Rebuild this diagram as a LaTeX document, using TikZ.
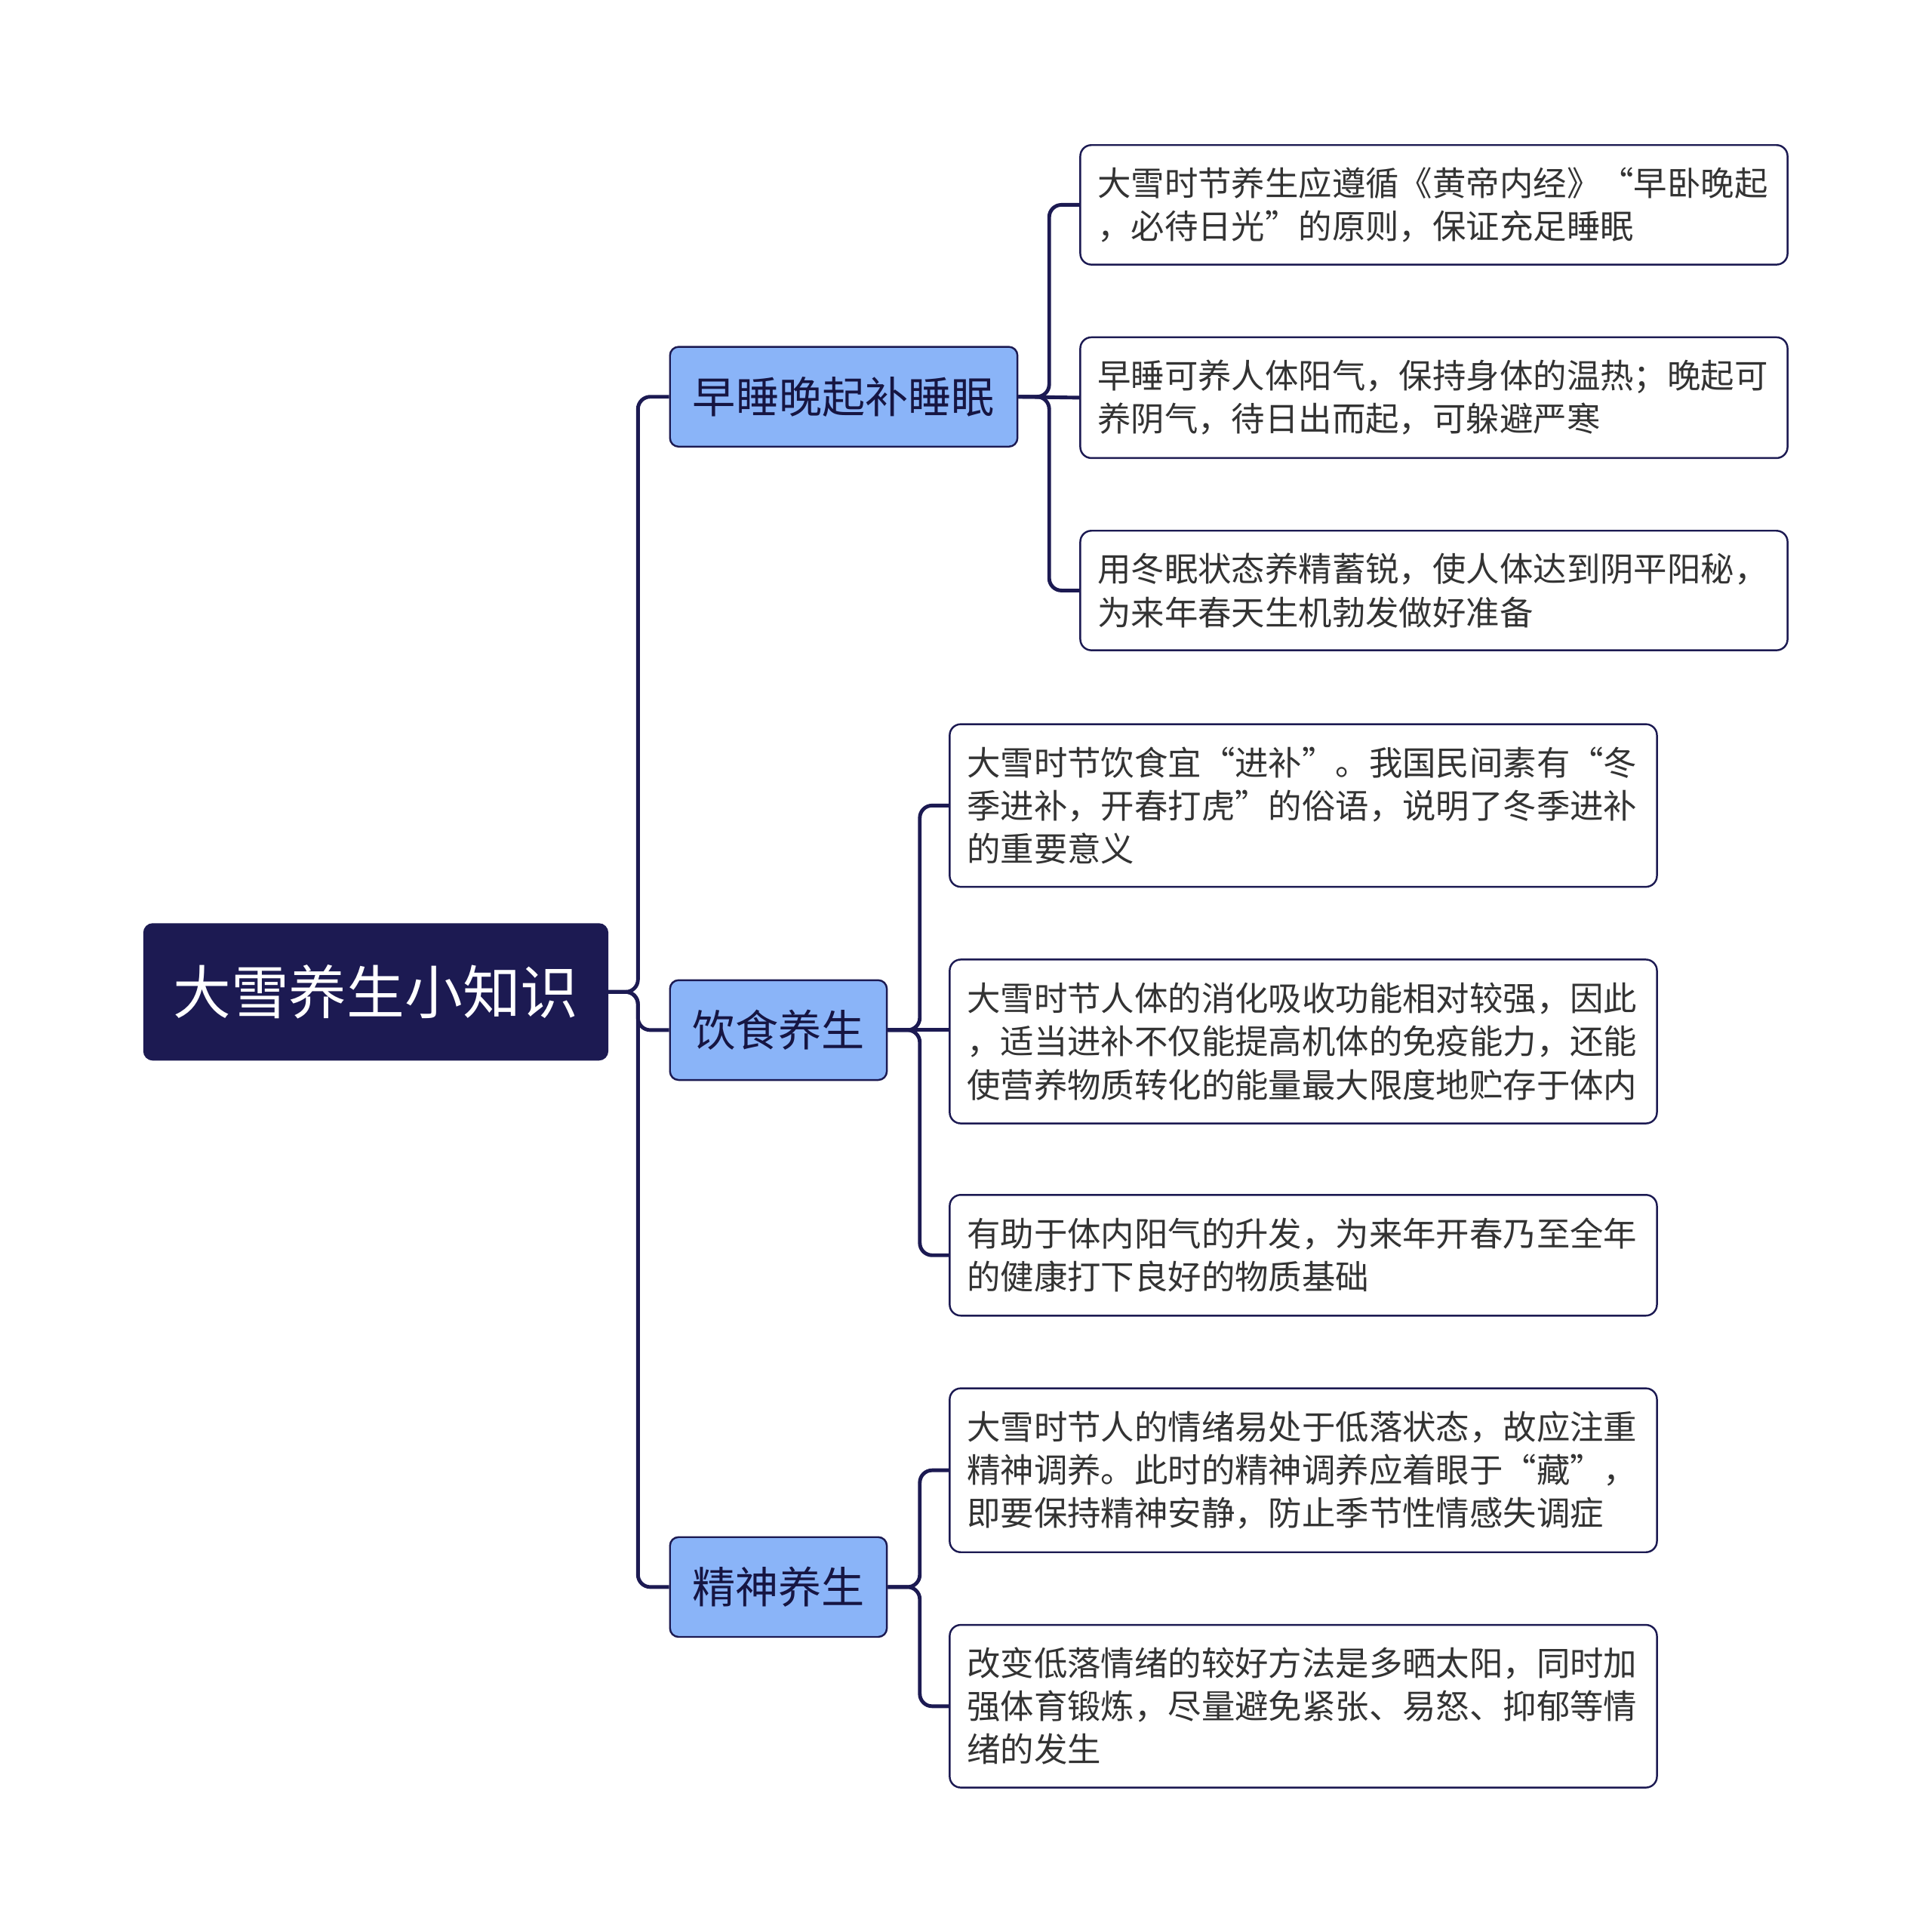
\documentclass[tikz,border=0pt]{standalone}
\usepackage{fontspec}
\setmainfont{Noto Sans CJK SC}
\definecolor{navy}{RGB}{28,26,82}
\definecolor{skyblue}{RGB}{138,180,248}
\tikzset{
  rootbox/.style={draw=navy,fill=navy,text=white,rounded corners=7,line width=1.5,minimum width=376,minimum height=110,font=\fontsize{47}{56}\selectfont},
  branchbox/.style={draw=navy,fill=skyblue,text=navy!80!black,rounded corners=7,line width=1.5,minimum height=81,anchor=west,font=\fontsize{35}{42}\selectfont},
  leafbox/.style={draw=navy,fill=white,text=black!80,rounded corners=9,line width=1.5,anchor=north west,align=left,text width=546,inner xsep=14,font=\fontsize{27.2}{35}\selectfont},
  link/.style={draw=navy,line width=3,rounded corners=10},
}
\begin{document}
\begin{tikzpicture}[x=1pt,y=-1pt]
\useasboundingbox (0,0) rectangle (1568,1568);

% Root
\node [rootbox] (root) at (305,805) {大雪养生小知识};

% Branches
\node [branchbox,minimum width=282] (sleep) at (543,322) {早睡晚起补睡眠};
\node [branchbox,minimum width=176] (food) at (543,836) {饮食养生};
\node [branchbox,minimum width=176] (mind) at (543,1288) {精神养生};

% Leaves
\node [leafbox,minimum height=97] (s1) at (876,117) {大雪时节养生应遵循《黄帝内经》“早卧晚起\\，必待日光”的原则，保证充足睡眠};
\node [leafbox,minimum height=98] (s2) at (876,273) {早睡可养人体阳气，保持身体的温热；晚起可\\养阴气，待日出而起，可躲避严寒};
\node [leafbox,minimum height=97] (s3) at (876,430) {用冬眠状态养精蓄锐，使人体达到阴平阳秘，\\为来年春天生机勃发做好准备};

\node [leafbox,minimum height=132] (f1) at (770,587) {大雪时节饮食宜“进补”。我国民间素有“冬\\季进补，开春打虎”的俗语，说明了冬季进补\\的重要意义};
\node [leafbox,minimum height=133] (f2) at (770,778) {大雪时节人体的消化吸收功能相对较强，因此\\，适当进补不仅能提高机体的免疫能力，还能\\使营养物质转化的能量最大限度地贮存于体内};
\node [leafbox,minimum height=98] (f3) at (770,969) {有助于体内阳气的升发，为来年开春乃至全年\\的健康打下良好的物质基础};

\node [leafbox,minimum height=133] (m1) at (770,1126) {大雪时节人的情绪易处于低落状态，故应注重\\精神调养。此时的精神调养应着眼于“藏”，\\即要保持精神安静，防止季节性情感失调症};
\node [leafbox,minimum height=132] (m2) at (770,1318) {改变低落情绪的较好方法是多晒太阳，同时加\\强体育锻炼，尽量避免紧张、易怒、抑郁等情\\绪的发生};

% Connectors
\foreach \b in {sleep,mind}
  \draw [link] (root.east) -- ++(24,0) |- (\b.west);
\draw [link] (root.east) -- ++(24,0) |- (food.west);
\foreach \l in {s1,s3}
  \draw [link] (sleep.east) -- ++(25,0) |- (\l.west);
\draw [link] (sleep.east) -- (s2.west);
\foreach \l in {f1,f3}
  \draw [link] (food.east) -- ++(26,0) |- (\l.west);
\draw [link] (food.east) -- ++(26,0) -- (f2.west |- food.east);
\foreach \l in {m1,m2}
  \draw [link] (mind.east) -- ++(26,0) |- (\l.west);

\end{tikzpicture}
\end{document}
